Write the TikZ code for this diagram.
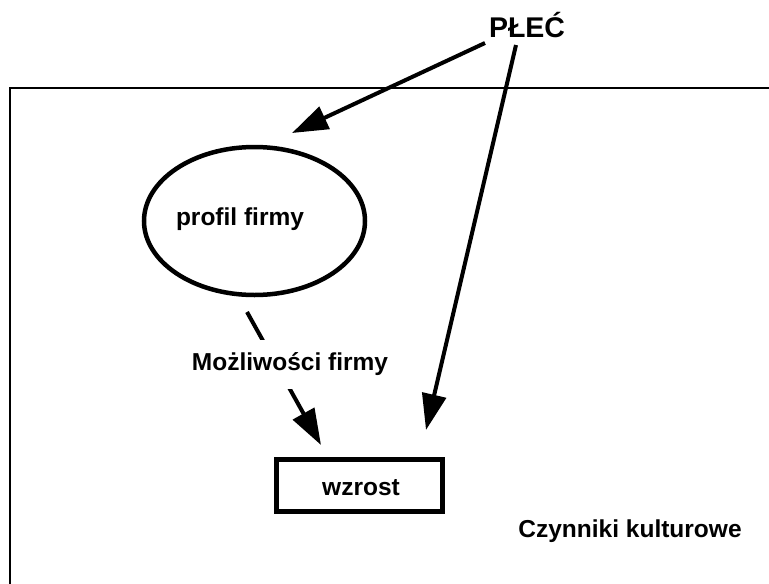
\documentclass[tikz,border=0pt]{standalone}
\usepackage{fontspec}
\setmainfont{Liberation Sans}
\usetikzlibrary{arrows.meta,shapes.geometric}
\begin{document}
\begin{tikzpicture}[x=1pt,y=-1pt,
  lbl/.style={font=\bfseries\fontsize{24.5}{28}\selectfont, inner sep=0pt, anchor=base},
  bigarrow/.style={line width=4pt, -{Triangle[length=36pt,width=24pt]}},
  frame/.style={line width=2pt}]
\useasboundingbox (0,0) rectangle (769,584);
\fill[white] (0,0) rectangle (769,584);

% outer frame (open on the right and bottom)
\draw[frame] (10,584) -- (10,88) -- (769,88);

% nodes
\node[lbl, font=\bfseries\fontsize{28.5}{32}\selectfont] (plec) at (527,37) {PŁEĆ};
\node[ellipse, draw, line width=4.5pt, minimum width=221pt, minimum height=148pt, inner sep=0pt] (prof) at (254.5,221) {};
\node[lbl] (proftxt) at (240,225) {profil firmy};
\node[rectangle, draw, line width=5pt, minimum width=166pt, minimum height=52pt, inner sep=0pt] (wz) at (359.5,485.5) {};
\node[lbl] (wztxt) at (361,495) {wzrost};
\node[lbl] (kult) at (630,537) {Czynniki kulturowe};

% connector end points
\coordinate (p1) at (485,43);
\coordinate (t1) at (292,133);
\coordinate (p2) at (516,45);
\coordinate (t2) at (426,430);
\coordinate (p3) at (247,312);
\coordinate (t3) at (321,445);

% connectors
\draw[bigarrow] (p1) -- (t1);
\draw[bigarrow] (p2) -- (t2);
\draw[bigarrow] (p3) -- (t3);

% label interrupting the lower connector
\node[fill=white, inner xsep=2pt, minimum height=49pt, font=\bfseries\fontsize{24.5}{28}\selectfont] (mozl) at (290,364.5) {Możliwości firmy};
\end{tikzpicture}
\end{document}
